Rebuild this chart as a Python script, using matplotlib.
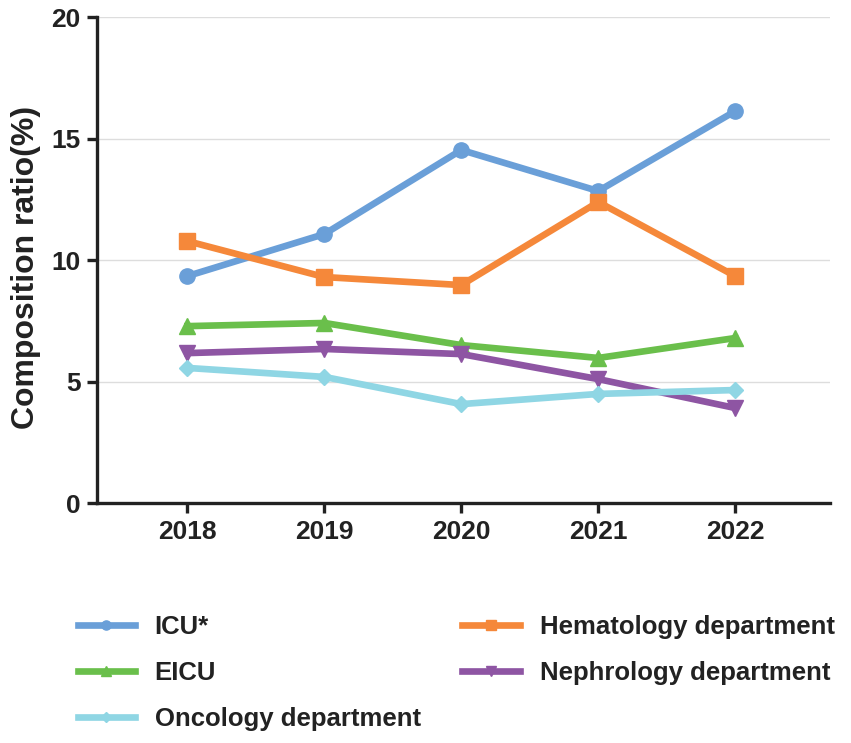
import matplotlib.pyplot as plt
import numpy as np

plt.rcParams["font.family"] = ["Liberation Sans", "DejaVu Sans"]

years = ["2018", "2019", "2020", "2021", "2022"]
icu = [9.34, 11.07, 14.53, 12.84, 16.13]
hematology = [10.78, 9.30, 8.97, 12.39, 9.34]
eicu = [7.28, 7.41, 6.50, 5.97, 6.79]
nephrology = [6.17, 6.34, 6.13, 5.10, 3.91]
oncology = [5.56, 5.19, 4.07, 4.49, 4.65]

series = [
    ("ICU*", icu, "#6a9fd8", "o", 11),
    ("Hematology department", hematology, "#f5883a", "s", 11),
    ("EICU", eicu, "#6abf4b", "^", 12),
    ("Nephrology department", nephrology, "#8e55a3", "v", 12),
    ("Oncology department", oncology, "#8fd6e4", "D", 8),
]

dark = "#222222"
fig = plt.figure(figsize=(8.51, 7.43), dpi=100)
ax = fig.add_axes([0.114, 0.323, 0.861, 0.654])

x = np.arange(len(years))
lines = {}
for name, vals, color, marker, ms in series:
    (ln,) = ax.plot(x, vals, color=color, lw=4.8, marker=marker, ms=ms,
                    label=name, solid_joinstyle="round")
    lines[name] = ln

ax.set_xlim(-0.66, 4.69)
ax.set_ylim(0, 20)
ax.set_yticks([0, 5, 10, 15, 20])
ax.set_xticks(x)
ax.set_xticklabels(years)
ax.yaxis.grid(True, color="#dddddd", lw=1)
ax.set_axisbelow(True)

for s in ["top", "right"]:
    ax.spines[s].set_visible(False)
for s in ["left", "bottom"]:
    ax.spines[s].set_linewidth(2.4)
    ax.spines[s].set_color(dark)
ax.tick_params(width=2.4, length=7, labelsize=19, pad=5, color=dark,
               labelcolor=dark)
for lab in ax.get_xticklabels() + ax.get_yticklabels():
    lab.set_fontweight("bold")

ax.set_ylabel("Composition ratio(%)", fontsize=23, fontweight="bold",
              color=dark)
ax.yaxis.set_label_coords(-0.077, 0.485)

# legend: two columns, ICU*/EICU/Oncology on the left
order = ["ICU*", "EICU", "Oncology department",
         "Hematology department", "Nephrology department"]
leg = fig.legend([lines[n] for n in order], order, ncol=2,
                 loc="upper left", bbox_to_anchor=(0.064, 0.203),
                 frameon=False, handlelength=2.25, markerscale=0.6,
                 handletextpad=0.75, columnspacing=1.62, labelspacing=0.86,
                 prop={"size": 18.5, "weight": "bold"})
for t in leg.get_texts():
    t.set_color(dark)

fig.savefig("out.png", dpi=100)
